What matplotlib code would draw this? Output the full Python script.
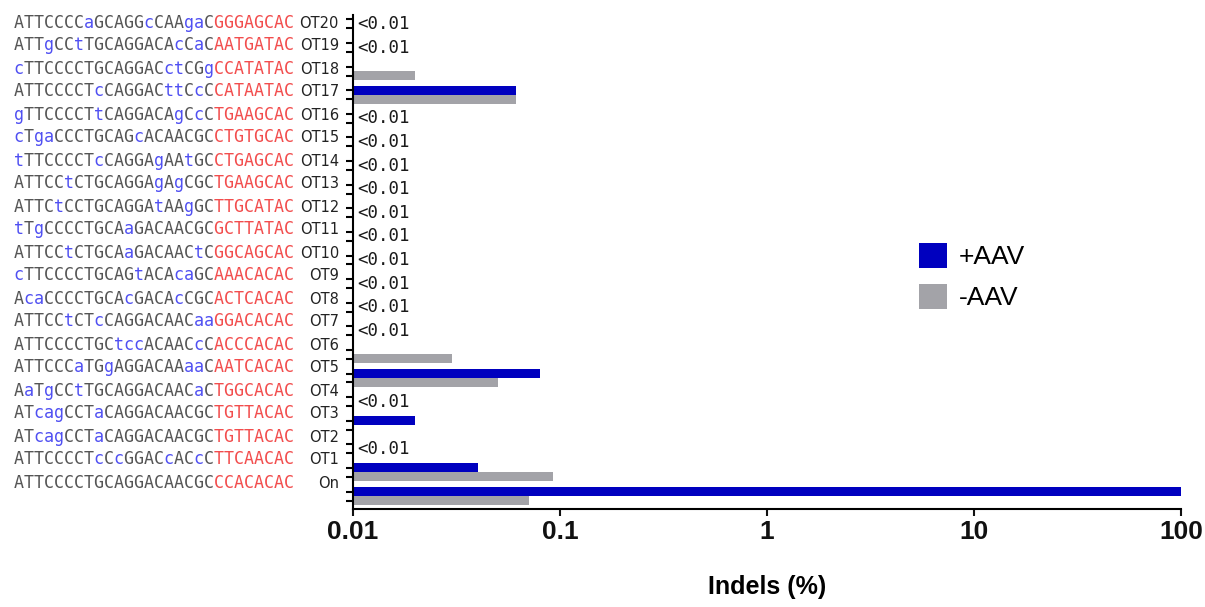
import numpy as np
import matplotlib
matplotlib.use("Agg")
import matplotlib.pyplot as plt
import matplotlib.transforms as mtransforms
from matplotlib.ticker import NullLocator

# === data (bottom to top)
names = ['On', 'OT1', 'OT2', 'OT3', 'OT4', 'OT5', 'OT6', 'OT7', 'OT8', 'OT9', 'OT10',
         'OT11', 'OT12', 'OT13', 'OT14', 'OT15', 'OT16', 'OT17', 'OT18', 'OT19', 'OT20']
seqs = [
    'ATTCCCCTGCAGGACAACGCCCACACAC',
    'ATTCCCCTcCcGGACcACcCTTCAACAC',
    'ATcagCCTaCAGGACAACGCTGTTACAC',
    'ATcagCCTaCAGGACAACGCTGTTACAC',
    'AaTgCCtTGCAGGACAACaCTGGCACAC',
    'ATTCCCaTGgAGGACAAaaCAATCACAC',
    'ATTCCCCTGCtccACAACcCACCCACAC',
    'ATTCCtCTcCAGGACAACaaGGACACAC',
    'AcaCCCCTGCAcGACAcCGCACTCACAC',
    'cTTCCCCTGCAGtACAcaGCAAACACAC',
    'ATTCCtCTGCAaGACAACtCGGCAGCAC',
    'tTgCCCCTGCAaGACAACGCGCTTATAC',
    'ATTCtCCTGCAGGAtAAgGCTTGCATAC',
    'ATTCCtCTGCAGGAgAgCGCTGAAGCAC',
    'tTTCCCCTcCAGGAgAAtGCCTGAGCAC',
    'cTgaCCCTGCAGcACAACGCCTGTGCAC',
    'gTTCCCCTtCAGGACAgCcCTGAAGCAC',
    'ATTCCCCTcCAGGACttCcCCATAATAC',
    'cTTCCCCTGCAGGACctCGgCCATATAC',
    'ATTgCCtTGCAGGACAcCaCAATGATAC',
    'ATTCCCCaGCAGGcCAAgaCGGGAGCAC',
]
nan = np.nan
plus_aav = [100, 0.04, nan, 0.02, nan, 0.08, nan, nan, nan, nan, nan,
            nan, nan, nan, nan, nan, nan, 0.061, nan, nan, nan]
minus_aav = [0.071, 0.092, nan, nan, nan, 0.05, 0.03, nan, nan, nan, nan,
             nan, nan, nan, nan, nan, nan, 0.061, 0.02, nan, nan]
below_limit = ['OT2', 'OT4', 'OT7', 'OT8', 'OT9', 'OT10', 'OT11', 'OT12', 'OT13',
               'OT14', 'OT15', 'OT16', 'OT19', 'OT20']
xticks = [0.01, 0.1, 1, 10, 100]
xtick_labels = ['0.01', '0.1', '1', '10', '100']

pam_len = 8
c_plus, c_minus = '#0000bf', '#a3a3a8'
c_seq, c_mm, c_pam = '#555555', '#5050f2', '#f24d4d'

W, H = 1205, 607
fig = plt.figure(figsize=(W / 100, H / 100), dpi=100)
ax = fig.add_axes([353 / W, 1 - 509 / H, (1181 - 353) / W, (509 - 15) / H])

y = np.arange(len(names))
bh = 0.38
p = np.array(plus_aav, float)
m = np.array(minus_aav, float)
ok = ~np.isnan(p)
ax.barh(y[ok] + bh / 2, p[ok] - 0.01, left=0.01, height=bh, color=c_plus, label='+AAV')
ok = ~np.isnan(m)
ax.barh(y[ok] - bh / 2, m[ok] - 0.01, left=0.01, height=bh, color=c_minus, label='-AAV')

ax.set_xscale('log')
ax.set_xlim(0.01, 100)
ax.set_ylim(-0.55, 20.38)
ax.set_xticks(xticks)
ax.set_xticklabels(xtick_labels, fontsize=19, fontweight='bold', family='Liberation Sans')
ax.xaxis.set_minor_locator(NullLocator())
ax.set_yticks(np.concatenate([y - bh / 2, y + bh / 2]))
ax.tick_params(axis='y', labelleft=False, length=5, width=1.5, direction='out')
ax.tick_params(axis='x', length=5, width=1.5, pad=3, colors='#111111')
for s in ['top', 'right']:
    ax.spines[s].set_visible(False)
for s in ['left', 'bottom']:
    ax.spines[s].set_linewidth(1.5)

ax.set_xlabel('Indels (%)', fontsize=18, fontweight='bold', family='Liberation Sans')
ax.xaxis.set_label_coords(0.5, -0.134)

# === "<0.01" markers
for nm in below_limit:
    i = names.index(nm)
    ax.annotate('<0.01', xy=(0.01, i), xytext=(4, 0), textcoords='offset pixels',
                ha='left', va='center', family='DejaVu Sans Mono', fontsize=12.5,
                color='#1a1a1a')

# === sequence labels (monospace, one layer per colour)
tr = mtransforms.blended_transform_factory(fig.transFigure, ax.transAxes)
label_y = (21.5 + 23.0 * y) / 494.0
for i, (nm, sq) in enumerate(zip(names, seqs)):
    kinds = []
    for j, ch in enumerate(sq):
        if j >= len(sq) - pam_len:
            kinds.append(c_pam)
        elif ch.islower():
            kinds.append(c_mm)
        else:
            kinds.append(c_seq)
    for col in [c_seq, c_mm, c_pam]:
        layer = ''.join(ch if k == col else ' ' for ch, k in zip(sq, kinds))
        if layer.strip():
            ax.text(14 / W, label_y[i], layer, transform=tr, ha='left', va='baseline',
                    family='DejaVu Sans Mono', fontsize=12, color=col, clip_on=False)
    ax.text(339 / W, label_y[i], nm, transform=tr, ha='right', va='baseline',
            family='DejaVu Sans', fontsize=10.5, color='#222222', clip_on=False)

ax.legend(loc='upper left', bbox_to_anchor=(919 / W, 1 - 243 / H), bbox_transform=fig.transFigure,
          frameon=False, prop={'family': 'Liberation Sans', 'size': 19},
          handlelength=1.06, handleheight=1.08, handletextpad=0.45, labelspacing=0.55,
          borderpad=0, borderaxespad=0)

fig.savefig('out.png', dpi=100)
